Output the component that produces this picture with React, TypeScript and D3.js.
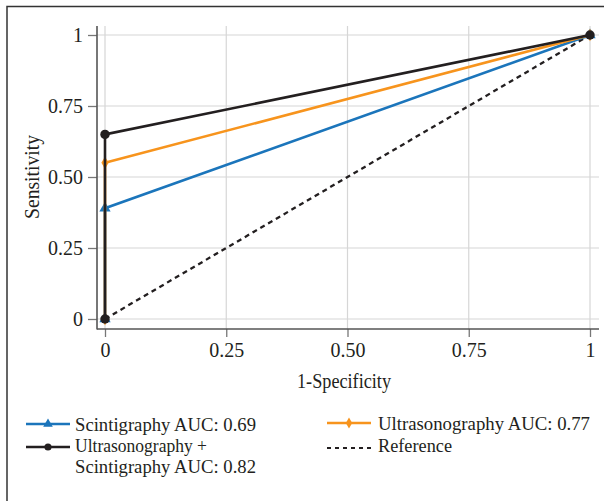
// App.tsx
import React, { useRef, useEffect } from 'react';
import * as d3 from 'd3';

// ROC points (1-specificity, sensitivity)
const fpr = [0, 0, 1];
const scintigraphyTpr = [0, 0.39, 1];
const ultrasonographyTpr = [0, 0.55, 1];
const combinedTpr = [0, 0.65, 1];
const referenceFpr = [0, 1];
const referenceTpr = [0, 1];

const tickValues = [0, 0.25, 0.5, 0.75, 1];
const tickLabels = ['0', '0.25', '0.50', '0.75', '1'];

const seriesNames = ['scintigraphy', 'ultrasonography', 'combined'];
const seriesColors = ['#1b75bb', '#f7941d', '#231f20'];
const legendLabels = [
    ['Scintigraphy AUC: 0.69'],
    ['Ultrasonography AUC: 0.77'],
    ['Ultrasonography +', 'Scintigraphy AUC: 0.82'],
    ['Reference'],
];

const FONT = "'Liberation Serif', 'Times New Roman', serif";

const App = () => {
    const ref = useRef<SVGSVGElement>(null);

    useEffect(() => {
        const svg = d3.select(ref.current);
        svg.selectAll('*').remove();

        const x = d3.scaleLinear().domain([0, 1]).range([105, 590]);
        const y = d3.scaleLinear().domain([0, 1]).range([319, 35]);
        const left = 97, right = 599, top = 26, bottom = 329;

        // outer frame (cropped on right / bottom)
        svg.append('path')
            .attr('d', 'M7,501V6.5H604')
            .attr('fill', 'none')
            .attr('stroke', '#333')
            .attr('stroke-width', 1.5);

        // grid
        const grid = svg.append('g').attr('stroke', '#d6d6d6').attr('stroke-width', 1.2);
        grid.selectAll('.h').data(tickValues).enter().append('line')
            .attr('x1', left).attr('x2', right)
            .attr('y1', d => y(d)).attr('y2', d => y(d));
        grid.selectAll('.v').data(tickValues).enter().append('line')
            .attr('y1', top).attr('y2', bottom)
            .attr('x1', d => x(d)).attr('x2', d => x(d));

        // axes
        const yAxis = d3.axisLeft(y)
            .tickValues(tickValues)
            .tickFormat((d, i) => tickLabels[i])
            .tickSize(9)
            .tickPadding(5);
        const xAxis = d3.axisBottom(x)
            .tickValues(tickValues)
            .tickFormat((d, i) => tickLabels[i])
            .tickSize(8)
            .tickPadding(6);

        const gy = svg.append('g').attr('transform', `translate(${left},0)`).call(yAxis);
        const gx = svg.append('g').attr('transform', `translate(0,${bottom})`).call(xAxis);
        [gx, gy].forEach(g => {
            g.select('.domain').remove();
            g.selectAll('.tick line').attr('stroke', '#777').attr('stroke-width', 1.3);
            g.selectAll('.tick text')
                .attr('font-family', FONT)
                .attr('font-size', 20)
                .attr('fill', '#231f20');
        });
        gy.selectAll('.tick text').attr('dy', '0.34em');
        gx.selectAll('.tick text').attr('dy', '0.72em');

        svg.append('line')
            .attr('x1', left).attr('x2', left).attr('y1', top).attr('y2', bottom + 0.5)
            .attr('stroke', '#555').attr('stroke-width', 1.6);
        svg.append('line')
            .attr('x1', left).attr('x2', right).attr('y1', bottom).attr('y2', bottom)
            .attr('stroke', '#555').attr('stroke-width', 1.6);

        // axis titles
        svg.append('text')
            .attr('x', 297).attr('y', 388)
            .attr('textLength', 94).attr('lengthAdjust', 'spacingAndGlyphs')
            .attr('font-family', FONT).attr('font-size', 20).attr('fill', '#231f20')
            .text('1-Specificity');
        svg.append('text')
            .attr('transform', 'translate(39,219) rotate(-90)')
            .attr('textLength', 84).attr('lengthAdjust', 'spacingAndGlyphs')
            .attr('font-family', FONT).attr('font-size', 20).attr('fill', '#231f20')
            .text('Sensitivity');

        const line = d3.line<[number, number]>()
            .x(d => x(d[0]))
            .y(d => y(d[1]));

        // reference
        svg.append('path')
            .datum(referenceFpr.map((f, i) => [f, referenceTpr[i]] as [number, number]))
            .attr('d', line)
            .attr('fill', 'none')
            .attr('stroke', '#231f20')
            .attr('stroke-width', 2.3)
            .attr('stroke-dasharray', '5,4');

        const tprs = [scintigraphyTpr, ultrasonographyTpr, combinedTpr];
        const symbols = [d3.symbolTriangle, d3.symbolDiamond, d3.symbolCircle];
        const sizes = [55, 45, 70];

        seriesNames.forEach((name, s) => {
            const pts = fpr.map((f, i) => [f, tprs[s][i]] as [number, number]);
            svg.append('path')
                .datum(pts)
                .attr('class', name)
                .attr('d', line)
                .attr('fill', 'none')
                .attr('stroke', seriesColors[s])
                .attr('stroke-width', 2.6);
            svg.selectAll(`.m-${name}`)
                .data(pts)
                .enter()
                .append('path')
                .attr('class', `m-${name}`)
                .attr('transform', d => `translate(${x(d[0])},${y(d[1])})`)
                .attr('d', d3.symbol().type(symbols[s]).size(sizes[s]))
                .attr('fill', seriesColors[s]);
        });

        // legend
        const legendPos = [
            { lx: 26, ly: 424, tx: 75, ty: 431, w: [181] },
            { lx: 327, ly: 423, tx: 378, ty: 430, w: [212] },
            { lx: 26, ly: 447, tx: 75, ty: 452, w: [132, 181] },
            { lx: 327, ly: 448, tx: 378, ty: 452, w: [74] },
        ];
        const legendColors = [seriesColors[0], seriesColors[1], seriesColors[2], '#231f20'];
        const legendSymbols = [d3.symbolTriangle, d3.symbolDiamond, d3.symbolCircle, null];
        const legendSizes = [40, 35, 40, 0];

        legendLabels.forEach((lines, i) => {
            const p = legendPos[i];
            const g = svg.append('g');
            g.append('line')
                .attr('x1', p.lx).attr('x2', p.lx + 44)
                .attr('y1', p.ly).attr('y2', p.ly)
                .attr('stroke', legendColors[i])
                .attr('stroke-width', i === 3 ? 2.2 : 2.6)
                .attr('stroke-dasharray', i === 3 ? '4,4' : null);
            if (legendSymbols[i]) {
                g.append('path')
                    .attr('transform', `translate(${p.lx + 22},${p.ly})`)
                    .attr('d', d3.symbol().type(legendSymbols[i]!).size(legendSizes[i]))
                    .attr('fill', legendColors[i]);
            }
            lines.forEach((t, j) => {
                g.append('text')
                    .attr('x', p.tx).attr('y', p.ty + j * 21)
                    .attr('textLength', p.w[j]).attr('lengthAdjust', 'spacingAndGlyphs')
                    .attr('font-family', FONT).attr('font-size', 19).attr('fill', '#231f20')
                    .text(t);
            });
        });
    }, []);

    return (
        <div className="chart">
            <svg ref={ref} width={604} height={501}
                style={{ position: 'absolute', left: 0, top: 0, background: '#fff' }}></svg>
        </div>
    );
};

export default App;
